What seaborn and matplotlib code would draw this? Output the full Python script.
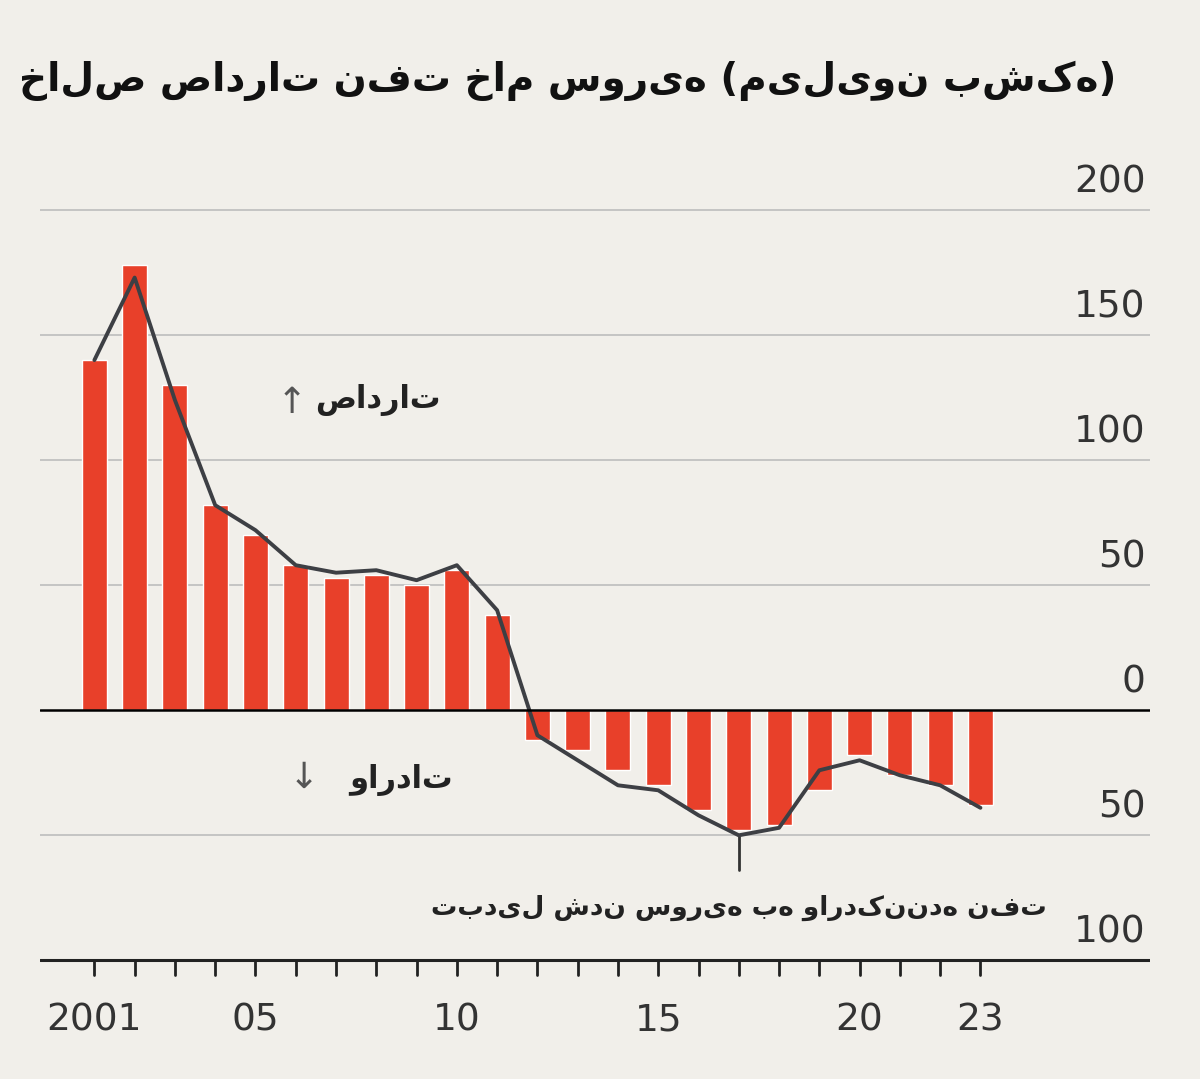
import matplotlib
matplotlib.use("Agg")
import matplotlib.pyplot as plt
import seaborn as sns
import numpy as np

years = list(range(2001, 2024))
bar_values = [140, 178, 130, 82, 70, 58, 53, 54, 50, 56, 38, -12, -16, -24, -30, -40, -48, -46, -32, -18, -26, -30, -38]
line_values = [140, 173, 124, 82, 72, 58, 55, 56, 52, 58, 40, -10, -20, -30, -32, -42, -50, -47, -24, -20, -26, -30, -39]
ytick_values = [200, 150, 100, 50, 0, -50, -100]
ytick_labels = ["200", "150", "100", "50", "0", "50", "100"]
xtick_years = [2001, 2005, 2010, 2015, 2020, 2023]
xtick_labels = ["2001", "05", "10", "15", "20", "23"]
title = "خالص صادرات نفت خام سوریه (میلیون بشکه)"

sns.set_theme(style="white")
plt.rcParams['font.family'] = ['DejaVu Sans', 'Noto Sans']
bg = "#f1efea"
fig = plt.figure(figsize=(12, 10.79), dpi=100, facecolor=bg)
ax = fig.add_axes([0.033, 0.103, 0.925, 0.7255], facecolor=bg)

ax.bar(years, bar_values, width=0.62, color="#e8402a", zorder=2)
sns.lineplot(x=years, y=line_values, ax=ax, color="#3d3f44", linewidth=2.8, zorder=3)

ax.set_xlim(1999.64, 2027.2)
ax.set_ylim(-103, 210)
for v, lab in zip(ytick_values, ytick_labels):
    if v == 0:
        ax.axhline(0, color="black", lw=1.8, zorder=4)
    elif v == -100:
        ax.axhline(v, color="#222222", lw=2.2, zorder=4)
    else:
        ax.axhline(v, color="#bdbdbd", lw=1.2, zorder=1)
    ax.text(2027.1, v + 4, lab, ha="right", va="bottom", fontsize=27, color="#333333")

for y in years:
    ax.plot([y, y], [-100, -106], color="#222222", lw=2, clip_on=False)
for y, lab in zip(xtick_years, xtick_labels):
    ax.text(y, -117, lab, ha="center", va="top", fontsize=27, color="#333333")

for s in ax.spines.values():
    s.set_visible(False)
ax.set_xticks([]); ax.set_yticks([])

ax.text(2009.6, 124, "صادرات", ha="right", va="center", fontsize=22, fontweight="bold", color="#222")
ax.text(2005.9, 123, "↑", ha="center", va="center", fontsize=26, color="#555")
ax.text(2009.9, -28, "واردات", ha="right", va="center", fontsize=22, fontweight="bold", color="#222")
ax.text(2006.2, -27, "↓", ha="center", va="center", fontsize=26, color="#555")
ax.plot([2017, 2017], [-50, -64], color="#333", lw=2)
ax.text(2017, -79, "تبدیل شدن سوریه به واردکننده نفت", ha="center", va="center", fontsize=19, fontweight="bold", color="#222")

fig.text(0.93, 0.925, title, ha="right", va="center", fontsize=28, fontweight="bold", color="#111")
fig.savefig("out.png", dpi=100, facecolor=bg)
